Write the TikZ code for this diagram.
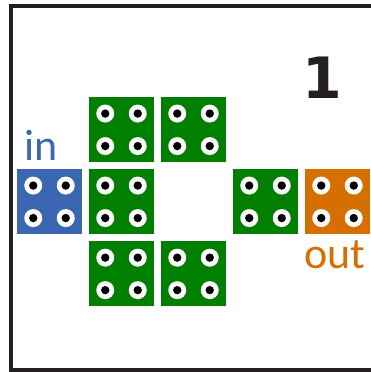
\documentclass[tikz,border=0pt]{standalone}
\usepackage{fontspec}
\setmainfont{Carlito}
\newfontfamily\numfont{DejaVu Sans}
\definecolor{inblue}{RGB}{58,102,178}
\definecolor{padgreen}{RGB}{0,127,0}
\definecolor{outorange}{RGB}{213,112,0}
\definecolor{framegray}{RGB}{35,31,32}

\begin{document}
\begin{tikzpicture}[x=1pt,y=1pt,yscale=-1,xscale=1,
  pad/.style={fill=#1, minimum size=65pt, inner sep=0pt},
  label text/.style={inner sep=0pt, anchor=base, font=\fontsize{44}{44}\selectfont}]
\useasboundingbox (0,0) rectangle (371,372);

%Frame (open on the right)
\draw [color=framegray, line width=4pt] (373,6.2) -- (10.7,6.2) -- (10.7,370) -- (373,370) ;

%Pads
\node [pad=inblue] (inpad) at (49.5,201.8) {};
\node [pad=padgreen] (g11) at (121.5,129.8) {};
\node [pad=padgreen] (g12) at (193.5,129.8) {};
\node [pad=padgreen] (g21) at (121.5,201.8) {};
\node [pad=padgreen] (g23) at (265.5,201.8) {};
\node [pad=padgreen] (g31) at (121.5,273.9) {};
\node [pad=padgreen] (g32) at (193.5,273.9) {};
\node [pad=outorange] (outpad) at (337.5,201.8) {};

%Holes
\foreach \p in {inpad,g11,g12,g21,g23,g31,g32,outpad}
  \foreach \dx in {-16.25,16.25}
    \foreach \dy in {-16.25,16.25} {
      \fill [white] ([shift={(\dx,\dy)}]\p.center) circle [radius=9] ;
      \fill [black] ([shift={(\dx,\dy)}]\p.center) circle [radius=4.2] ;
    }

% Text Node
\node [label text, color=inblue] (intext) at (41,160) {in};
% Text Node
\node [label text, color=outorange] (outtext) at (335,268.3) {out};
% Text Node
\node [inner sep=0pt, anchor=base, color=framegray, font=\numfont\bfseries\fontsize{57}{57}\selectfont] (num) at (322.5,98.3) {1};

\end{tikzpicture}
\end{document}
